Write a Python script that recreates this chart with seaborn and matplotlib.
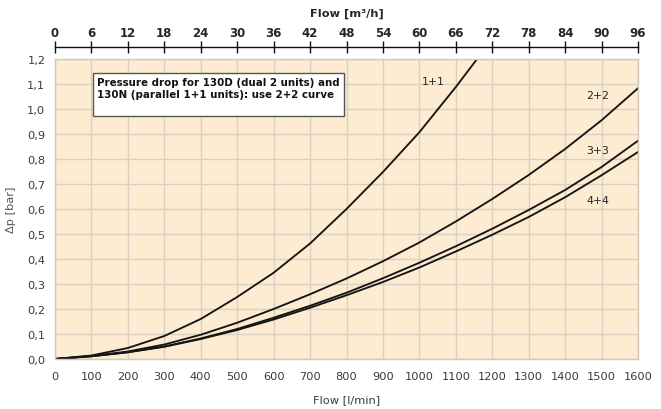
import matplotlib
matplotlib.use("Agg")
import matplotlib.pyplot as plt
import seaborn as sns
import pandas as pd
import numpy as np
from matplotlib.ticker import FuncFormatter
from matplotlib.patches import Rectangle

# ---- data ----
flow = [0, 100, 200, 300, 400, 500, 600, 700, 800, 900, 1000,
        1100, 1200, 1300, 1400, 1500, 1600]
flow_11 = [0, 100, 200, 300, 400, 500, 600, 700, 800, 900, 1000, 1100, 1200]
dp_11 = [0, 0.014, 0.044, 0.092, 0.16, 0.248, 0.345, 0.462, 0.6, 0.748, 0.907, 1.088, 1.28]
dp_22 = [0, 0.012, 0.03, 0.058, 0.097, 0.145, 0.2, 0.259, 0.322, 0.391, 0.466,
         0.55, 0.64, 0.736, 0.84, 0.955, 1.083]
dp_33 = [0, 0.011, 0.027, 0.05, 0.082, 0.12, 0.165, 0.213, 0.265, 0.323, 0.385,
         0.451, 0.521, 0.596, 0.676, 0.768, 0.873]
dp_44 = [0, 0.011, 0.027, 0.049, 0.08, 0.116, 0.158, 0.205, 0.255, 0.308, 0.366,
         0.43, 0.497, 0.568, 0.647, 0.735, 0.828]
series_names = ["1+1", "2+2", "3+3", "4+4"]
x_ticks = list(range(0, 1601, 100))
top_ticks = list(range(0, 97, 6))
y_ticks = [round(0.1 * i, 1) for i in range(13)]
note = "Pressure drop for 130D (dual 2 units) and\n130N (parallel 1+1 units): use 2+2 curve"

df = pd.concat([
    pd.DataFrame({"flow": flow_11, "dp": dp_11, "units": series_names[0]}),
    pd.DataFrame({"flow": flow, "dp": dp_22, "units": series_names[1]}),
    pd.DataFrame({"flow": flow, "dp": dp_33, "units": series_names[2]}),
    pd.DataFrame({"flow": flow, "dp": dp_44, "units": series_names[3]}),
], ignore_index=True)

sns.set_style("white")
plt.rcParams["font.family"] = ["DejaVu Sans"]

W, H = 661, 410
fig = plt.figure(figsize=(W / 100, H / 100), dpi=100)
ax = fig.add_axes([55 / W, 50 / H, 583 / W, 300 / H])
ax.set_facecolor("#FDECD2")

sns.lineplot(data=df, x="flow", y="dp", hue="units", ax=ax,
             palette=["#151515"] * 4, linewidth=1.35, legend=False, sort=False)

ax.set_xlim(0, 1600)
ax.set_ylim(0, 1.2)
ax.set_xticks(x_ticks)
ax.set_yticks(y_ticks)
ax.yaxis.set_major_formatter(FuncFormatter(lambda v, p: f"{v:.1f}".replace(".", ",")))
ax.grid(True, color="#D8D0C2", linewidth=1.0)
ax.set_axisbelow(True)
for s in ax.spines.values():
    s.set_color("#D0C8BA")
    s.set_linewidth(1.0)
ax.tick_params(axis="both", length=0, labelsize=8.2, labelcolor="#3a3a3a")
ax.tick_params(axis="x", pad=9)
ax.tick_params(axis="y", pad=7)
ax.set_xlabel("Flow [l/min]", fontsize=8.2, color="#3a3a3a", labelpad=9)
ax.set_ylabel("Δp [bar]", fontsize=8.2, color="#555555", labelpad=8)

# top axis in m3/h
sec = ax.secondary_xaxis(1.04, functions=(lambda x: x * 0.06, lambda x: x / 0.06))
sec.set_xticks(top_ticks)
sec.tick_params(axis="x", direction="inout", length=9, width=1.0, color="#111111",
                labelsize=8.5, pad=1)
for lab in sec.get_xticklabels():
    lab.set_fontweight("bold")
sec.spines["top"].set_visible(False)
sec.spines["bottom"].set_visible(True)
sec.spines["bottom"].set_color("#111111")
sec.spines["bottom"].set_linewidth(1.0)
sec.set_xlabel("Flow [m³/h]", fontsize=8.2, fontweight="bold", labelpad=8)

# note box
ax.add_patch(Rectangle((0.065, 0.81), 0.431, 0.143, transform=ax.transAxes,
                       facecolor="white", edgecolor="#555555", linewidth=1.0, zorder=5))
ax.text(0.072, 0.941, note, transform=ax.transAxes, ha="left", va="top",
        fontsize=7.4, fontweight="bold", color="#111111", linespacing=1.35, zorder=6)

# curve labels
label_pos = {"1+1": (1037, 1.112), "2+2": (1490, 1.055), "3+3": (1490, 0.835), "4+4": (1490, 0.635)}
for name in series_names:
    x, y = label_pos[name]
    ax.text(x, y, name, ha="center", va="center", fontsize=7.8, color="#222222")

fig.savefig("out.png", dpi=100)
